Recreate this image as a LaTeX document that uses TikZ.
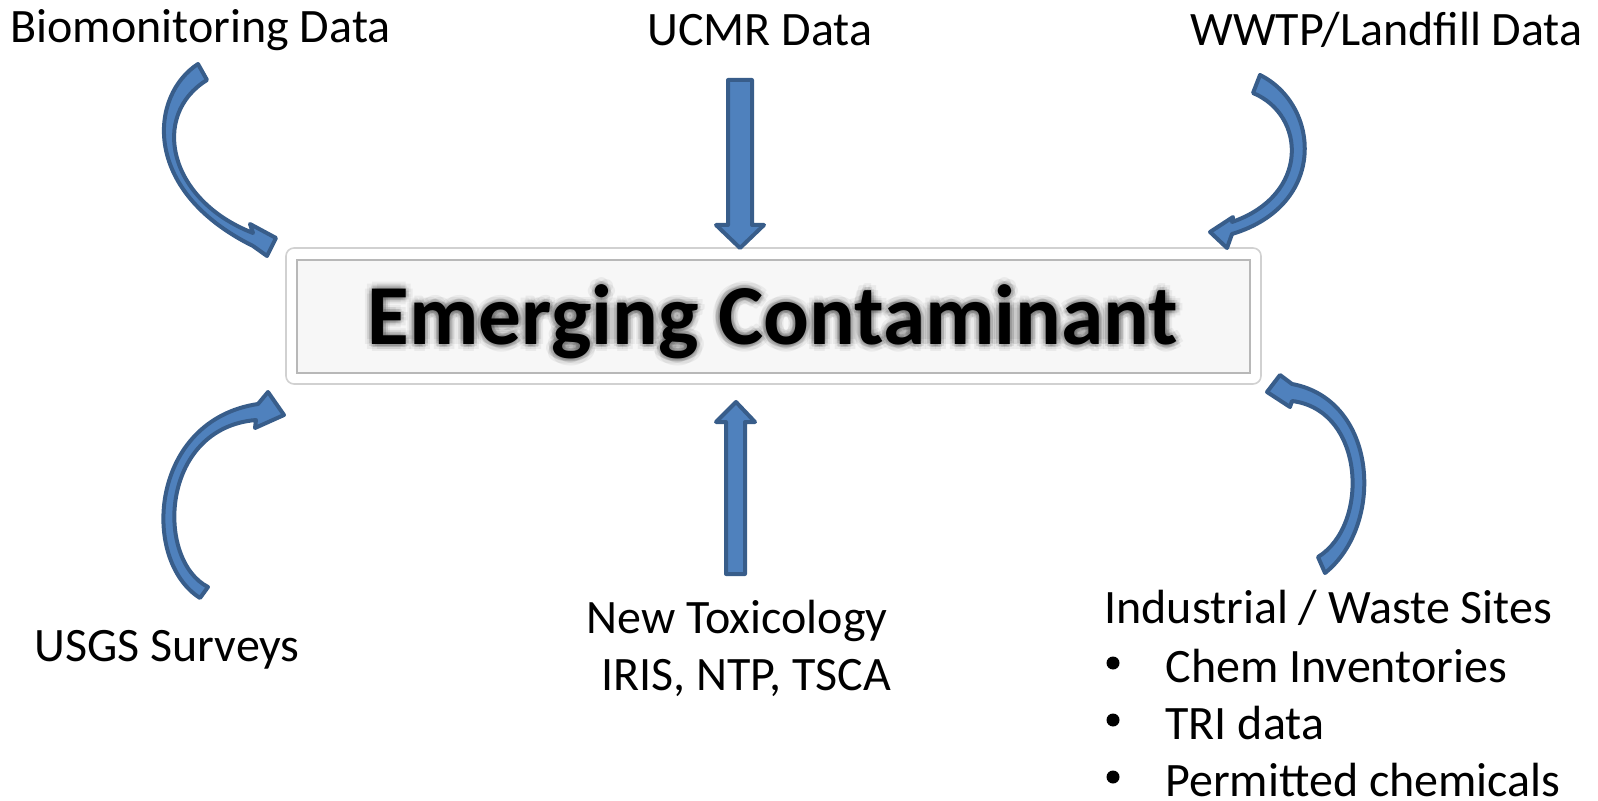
\documentclass[tikz,border=0pt]{standalone}
\usepackage{fontspec}
\setmainfont{Carlito}
\usetikzlibrary{calc}
\definecolor{arrfill}{HTML}{4F81BD}
\definecolor{arrline}{HTML}{385D8A}
\tikzset{
  blockarrow/.style={fill=arrfill, draw=arrline, line width=2pt, line join=round},
  lbl/.style={font=\fontsize{24}{29}\selectfont, inner sep=0pt, anchor=west},
  bigtxt/.style={font=\fontsize{42.7}{50}\selectfont\bfseries, inner sep=0pt},
}
\begin{document}
\begin{tikzpicture}[x=0.5pt,y=-0.5pt]
\useasboundingbox (0,0) rectangle (1598,801);
% central box
\draw[draw=black!18, fill=white, rounded corners=4pt, line width=0.8pt] (286,248) rectangle (1261,384);
\draw[draw=black!28, fill=black!3, line width=0.8pt] (297,260) rectangle (1250,373);
\coordinate (ec) at (773,322);
\foreach \a in {0,45,...,315}{
  \node[bigtxt, text=black, opacity=0.05] at ($(ec)+(\a:7)$) {Emerging Contaminant};
  \node[bigtxt, text=black, opacity=0.08] at ($(ec)+(\a+22.5:3.5)$) {Emerging Contaminant};
}
\node[bigtxt] (ecn) at (ec) {Emerging Contaminant};
% labels
\node[lbl] (bio) at (10,30) {Biomonitoring Data};
\node[lbl] (ucmr) at (647,30) {UCMR Data};
\node[lbl] (wwtp) at (1190,30) {WWTP/Landfill Data};
\node[lbl] (usgs) at (34,650) {USGS Surveys};
\node[lbl] (tox1) at (586,621) {New Toxicology};
\node[lbl] (tox2) at (601,678) {IRIS, NTP, TSCA};
\node[lbl] (ind) at (1104,608) {Industrial / Waste Sites};
\foreach \y/\t/\n in {666/Chem Inventories/b1, 723/TRI data/b2, 780/Permitted chemicals/b3}{
  \fill (1113,\y-3) circle (6.5);
  \node[lbl] (\n) at (1165,\y) {\t};
}
% straight arrows
\draw[blockarrow] (728,80) -- (752,80) -- (752,225) -- (764,225) -- (740,248) -- (716,225) -- (728,225) -- cycle;
\draw[blockarrow] (726,574) -- (745,574) -- (745,422) -- (755,422) -- (736,402) -- (716,422) -- (726,422) -- cycle;
% curved arrows
% top-left
\draw[blockarrow] (207,80) -- (198,64) .. controls (150,95) and (140,190) .. (253,246) -- (267,256) -- (276,238) -- (250,224) -- (253,233) .. controls (168,200) and (150,115) .. (207,80) -- cycle;
% top-right
\draw[blockarrow] (1253,93) -- (1260,75) .. controls (1320,105) and (1328,205) .. (1232,234) -- (1227,248) -- (1210,232) -- (1233,217) -- (1232,222) .. controls (1310,195) and (1306,115) .. (1253,93) -- cycle;
% bottom-left
\draw[blockarrow] (208,587) -- (200,598) .. controls (140,560) and (150,420) .. (258,404) -- (268,392) -- (284,415) -- (255,428) -- (256,420) .. controls (160,428) and (155,560) .. (208,587) -- cycle;
% bottom-right
\draw[blockarrow] (1318,557) -- (1325,573) .. controls (1385,525) and (1378,400) .. (1292,384) -- (1280,375) -- (1267,392) -- (1290,407) -- (1292,401) .. controls (1365,410) and (1370,525) .. (1318,557) -- cycle;
\end{tikzpicture}
\end{document}
